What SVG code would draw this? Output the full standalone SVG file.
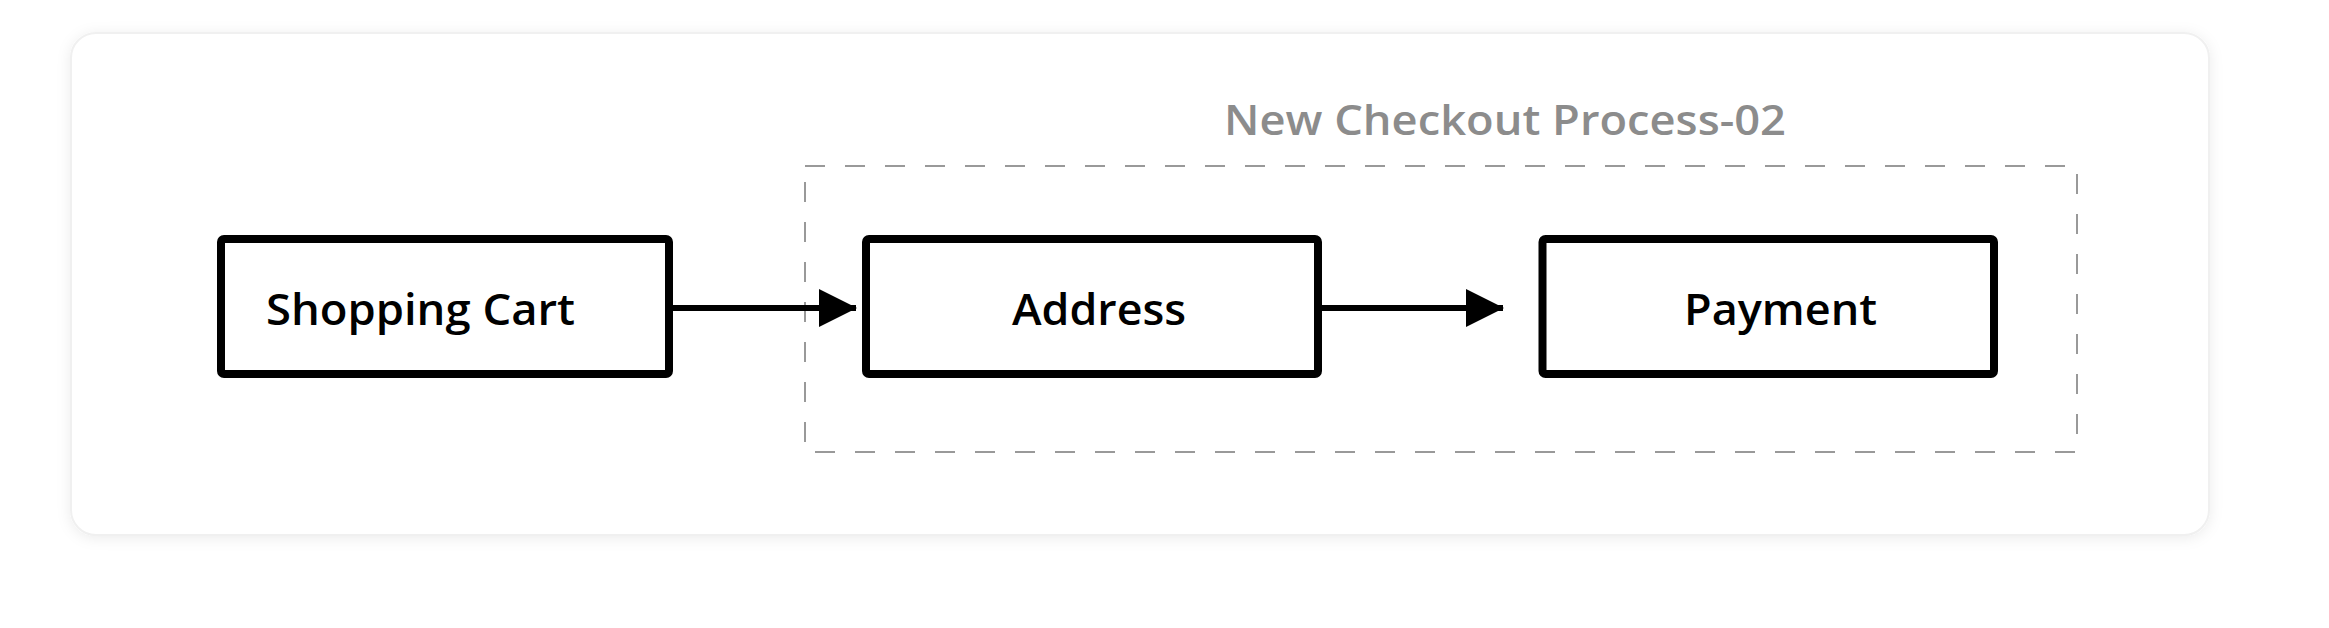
<svg xmlns="http://www.w3.org/2000/svg" width="2329" height="628" viewBox="0 0 2329 628">
  <style>
    .node rect { fill: #ffffff; stroke: #000000; stroke-width: 8; }
    .label { font-family: "Open Sans", "Liberation Sans", sans-serif; font-weight: 600; font-size: 43px; fill: #000000; text-anchor: middle; }
    .title { font-family: "Open Sans", "Liberation Sans", sans-serif; font-weight: 600; font-size: 41px; fill: #8c8c8c; }
    .edge { stroke: #000000; stroke-width: 6; fill: none; }
  </style>
  <defs>
    <filter id="shadow" x="-5%" y="-10%" width="110%" height="120%">
      <feDropShadow dx="0" dy="2" stdDeviation="7" flood-color="#000000" flood-opacity="0.08"/>
    </filter>
    <marker id="arrow" markerUnits="userSpaceOnUse" markerWidth="38" markerHeight="38" refX="37" refY="19" orient="auto">
      <path d="M0,0 L38,19 L0,38 Z" fill="#000000"/>
    </marker>
  </defs>
  <rect x="0" y="0" width="2329" height="628" fill="#ffffff"/>
  <g id="card">
    <rect x="71" y="33" width="2138" height="502" rx="25" ry="25" fill="#ffffff" stroke="#f0f0f0" stroke-width="2" filter="url(#shadow)"/>
  </g>
  <g id="group-new-checkout">
    <rect x="805" y="166" width="1272" height="286" fill="none" stroke="#999999" stroke-width="2" stroke-dasharray="20 20"/>
    <text class="title" x="1224" y="135" textLength="562" lengthAdjust="spacingAndGlyphs">New Checkout Process-02</text>
  </g>
  <g id="connectors">
    <line class="edge" x1="672" y1="308" x2="856" y2="308" marker-end="url(#arrow)"/>
    <line class="edge" x1="1320" y1="308" x2="1503" y2="308" marker-end="url(#arrow)"/>
  </g>
  <g id="node-shopping-cart" class="node">
    <rect x="221" y="239" width="448" height="135" rx="3"/>
    <text class="label" x="420.5" y="325" textLength="309" lengthAdjust="spacingAndGlyphs">Shopping Cart</text>
  </g>
  <g id="node-address" class="node">
    <rect x="866" y="239" width="452" height="135" rx="3"/>
    <text class="label" x="1099" y="325" textLength="174" lengthAdjust="spacingAndGlyphs">Address</text>
  </g>
  <g id="node-payment" class="node">
    <rect x="1542.5" y="239" width="451.5" height="135" rx="3"/>
    <text class="label" x="1780.5" y="325" textLength="193" lengthAdjust="spacingAndGlyphs">Payment</text>
  </g>
</svg>
